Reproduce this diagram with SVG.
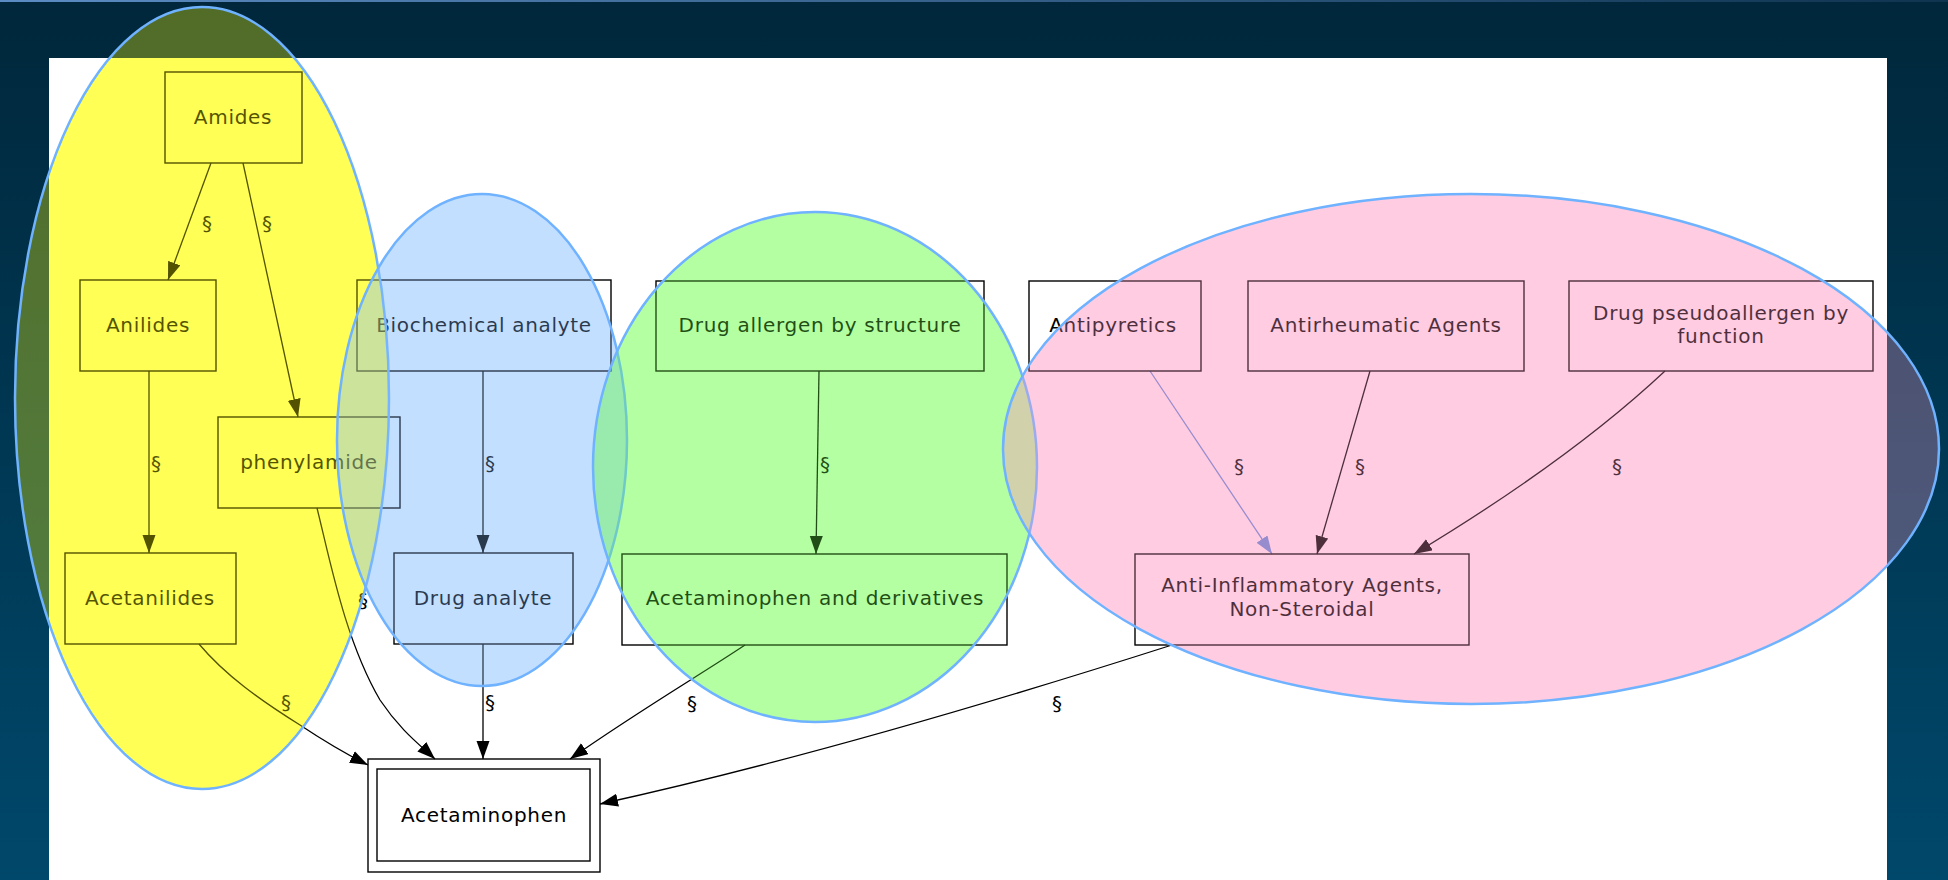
<svg xmlns="http://www.w3.org/2000/svg" width="1948" height="880" viewBox="0 0 1948 880">
<defs>
<linearGradient id="bg" x1="0" y1="0" x2="0" y2="1">
<stop offset="0" stop-color="#00273b"/>
<stop offset="1" stop-color="#00486b"/>
</linearGradient>
<linearGradient id="topline" x1="0" y1="0" x2="1" y2="0">
<stop offset="0" stop-color="#5c8cc4"/>
<stop offset="1" stop-color="#0f3450"/>
</linearGradient>
<clipPath id="panel"><rect x="49" y="58" width="1838" height="822"/></clipPath>
<ellipse id="e-yellow" cx="202" cy="398" rx="187" ry="391"/>
<ellipse id="e-blue" cx="482" cy="440" rx="145" ry="246"/>
<ellipse id="e-green" cx="815" cy="467" rx="222" ry="255"/>
<ellipse id="e-pink" cx="1471" cy="449" rx="468" ry="255"/>
<marker id="arr" markerUnits="userSpaceOnUse" markerWidth="20" markerHeight="14" refX="18" refY="6.5" orient="auto">
<path d="M0,0 L18,6.5 L0,13 z" fill="#000"/>
</marker>
<marker id="arrBlue" markerUnits="userSpaceOnUse" markerWidth="20" markerHeight="14" refX="18" refY="6.5" orient="auto">
<path d="M0,0 L18,6.5 L0,13 z" fill="#6a86d2"/>
</marker>
<style>
.box{fill:none;stroke:#000;stroke-width:1.4}
.lbl{font-family:"DejaVu Sans",sans-serif;font-size:20px;letter-spacing:0.7px;fill:#000;text-anchor:middle}
.sec{font-family:"DejaVu Sans",sans-serif;font-size:20px;fill:#000;text-anchor:middle}
.edge{fill:none;stroke:#000;stroke-width:1.3;marker-end:url(#arr)}
.hl{stroke:#6fb2ff;stroke-width:2.5}
.y{fill:#ffff00}
.b{fill:#8cc0ff}
.g{fill:#6cff48}
.p{fill:#ff9cc8}
</style>
</defs>
<rect x="0" y="0" width="1948" height="880" fill="url(#bg)"/>
<rect x="0" y="0" width="1948" height="2" fill="url(#topline)"/>
<rect x="49" y="58" width="1838" height="822" fill="#ffffff"/>

<g id="highlight-underlay" clip-path="url(#panel)">
<use href="#e-yellow" class="y" fill-opacity="0.5"/>
<use href="#e-blue" class="b" fill-opacity="0.3"/>
<use href="#e-green" class="g" fill-opacity="0.3"/>
<use href="#e-pink" class="p" fill-opacity="0.3"/>
</g>

<g id="connectors">
<path class="edge" d="M211,163 L168,280"/>
<text class="sec" x="207" y="230">§</text>
<path class="edge" d="M243,163 L298,417"/>
<text class="sec" x="267" y="230">§</text>
<path class="edge" d="M149,371 L149,553"/>
<text class="sec" x="156" y="470">§</text>
<path class="edge" d="M483,371 L483,553"/>
<text class="sec" x="490" y="470">§</text>
<path class="edge" d="M819,371 L816,554"/>
<text class="sec" x="825" y="471">§</text>
<path class="edge" style="stroke:#6a86d2;marker-end:url(#arrBlue)" d="M1150,371 L1272,554"/>
<text class="sec" x="1239" y="473">§</text>
<path class="edge" d="M1370,371 L1317,554"/>
<text class="sec" x="1360" y="473">§</text>
<path class="edge" d="M1665,371 Q1570,460 1414,554"/>
<text class="sec" x="1617" y="473">§</text>
<path class="edge" d="M199,644 C225,675 260,700 300,725 C330,745 350,756 368,765"/>
<text class="sec" x="286" y="709">§</text>
<path class="edge" d="M317,508 C330,560 345,640 380,700 C400,730 420,745 435,759"/>
<text class="sec" x="363" y="607">§</text>
<path class="edge" d="M483,644 L483,759"/>
<text class="sec" x="490" y="709">§</text>
<path class="edge" d="M745,645 C700,675 640,710 570,759"/>
<text class="sec" x="692" y="710">§</text>
<path class="edge" d="M1172,645 C1000,700 800,760 600,804"/>
<text class="sec" x="1057" y="710">§</text>
</g>

<g id="node-amides">
<rect class="box" x="165" y="72" width="137" height="91"/>
<text class="lbl" x="233" y="124">Amides</text>
</g>
<g id="node-anilides">
<rect class="box" x="80" y="280" width="136" height="91"/>
<text class="lbl" x="148" y="332">Anilides</text>
</g>
<g id="node-biochemical-analyte">
<rect class="box" x="357" y="280" width="254" height="91"/>
<text class="lbl" x="484" y="332">Biochemical analyte</text>
</g>
<g id="node-phenylamide">
<rect class="box" x="218" y="417" width="182" height="91"/>
<text class="lbl" x="309" y="469">phenylamide</text>
</g>
<g id="node-acetanilides">
<rect class="box" x="65" y="553" width="171" height="91"/>
<text class="lbl" x="150" y="605">Acetanilides</text>
</g>
<g id="node-drug-analyte">
<rect class="box" x="394" y="553" width="179" height="91"/>
<text class="lbl" x="483" y="605">Drug analyte</text>
</g>
<g id="node-drug-allergen-by-structure">
<rect class="box" x="656" y="281" width="328" height="90"/>
<text class="lbl" x="820" y="332">Drug allergen by structure</text>
</g>
<g id="node-acetaminophen-and-derivatives">
<rect class="box" x="622" y="554" width="385" height="91"/>
<text class="lbl" x="815" y="605">Acetaminophen and derivatives</text>
</g>
<g id="node-antipyretics">
<rect class="box" x="1029" y="281" width="172" height="90"/>
<text class="lbl" x="1113" y="332">Antipyretics</text>
</g>
<g id="node-antirheumatic-agents">
<rect class="box" x="1248" y="281" width="276" height="90"/>
<text class="lbl" x="1386" y="332">Antirheumatic Agents</text>
</g>
<g id="node-drug-pseudoallergen-by-function">
<rect class="box" x="1569" y="281" width="304" height="90"/>
<text class="lbl" x="1721" y="320">Drug pseudoallergen by</text>
<text class="lbl" x="1721" y="343">function</text>
</g>
<g id="node-anti-inflammatory">
<rect class="box" x="1135" y="554" width="334" height="91"/>
<text class="lbl" x="1302" y="592">Anti-Inflammatory Agents,</text>
<text class="lbl" x="1302" y="616">Non-Steroidal</text>
</g>
<g id="node-acetaminophen">
<rect class="box" x="368" y="759" width="232" height="113"/>
<rect class="box" x="377" y="769" width="213" height="92"/>
<text class="lbl" x="484" y="822">Acetaminophen</text>
</g>

<g id="highlight-overlay">
<use href="#e-yellow" class="y hl" fill-opacity="0.32"/>
<use href="#e-blue" class="b hl" fill-opacity="0.3"/>
<use href="#e-green" class="g hl" fill-opacity="0.3"/>
<use href="#e-pink" class="p hl" fill-opacity="0.3"/>
</g>
</svg>
